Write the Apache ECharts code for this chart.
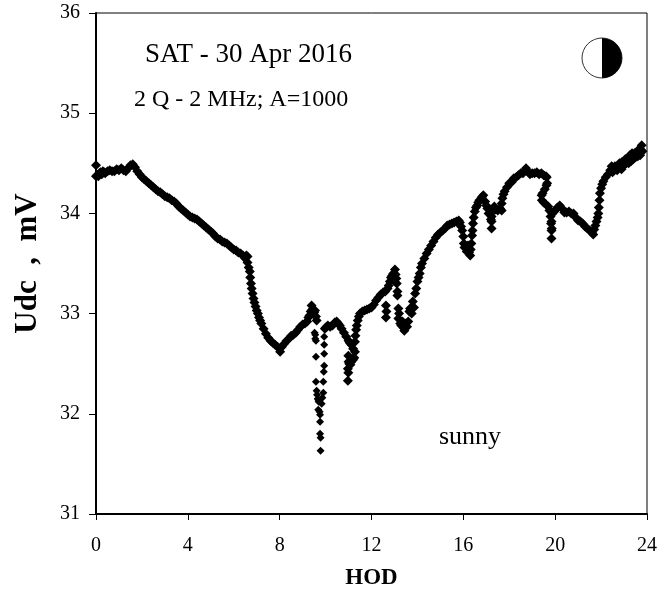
<!DOCTYPE html>
<html><head><meta charset="utf-8">
<style>html,body{margin:0;padding:0;background:#fff}#c{width:661px;height:595px}</style>
<script src="https://cdn.jsdelivr.net/npm/echarts@6/dist/echarts.min.js"></script></head>
<body><div id="c"></div>
<script>
const xTicks=[0,4,8,12,16,20,24];
const hodNight=[0,0,0.05,0.1,0.15,0.2,0.25,0.3,0.35,0.4,0.5,0.6,0.7,0.8,0.9,1.0,1.1,1.2,1.3,1.4,1.5,1.6,1.7,1.8,1.9,2.0,2.1,2.2,2.3,2.4,2.5,2.6,2.7,2.8,2.9,3.0,3.1,3.2,3.3,3.4,3.5,3.6,3.7,3.8,3.9,4.0,4.1,4.2,4.3,4.4,4.5,4.6,4.7,4.8,4.9,5.0,5.1,5.2,5.3,5.4,5.5,5.6,5.7,5.8,5.9,6.0,6.1,6.2,6.3,6.4,6.5,6.55,6.6,6.6,6.65];
const udcNight=[34.48,34.37,34.38,34.37,34.40,34.41,34.39,34.42,34.41,34.40,34.42,34.43,34.42,34.42,34.44,34.43,34.45,34.43,34.42,34.45,34.48,34.49,34.46,34.42,34.39,34.36,34.34,34.32,34.30,34.28,34.26,34.24,34.22,34.21,34.19,34.17,34.16,34.15,34.13,34.12,34.10,34.07,34.05,34.03,34.01,33.99,33.97,33.96,33.95,33.94,33.92,33.90,33.88,33.86,33.84,33.82,33.80,33.77,33.75,33.74,33.72,33.71,33.70,33.68,33.66,33.64,33.63,33.61,33.60,33.58,33.55,33.58,33.51,33.57,33.46];
const hodMorning=[6.7,6.72,6.75,6.78,6.82,6.86,6.9,6.95,7.0,7.05,7.1,7.15,7.2,7.3,7.4,7.5,7.6,7.7,7.8,7.9,8.0,8.02,8.1,8.2,8.3,8.4,8.5,8.6,8.7,8.8,8.9,9.0,9.1,9.2,9.25,9.3,9.35,9.39,9.42,9.45,9.5,9.54,9.58,9.61];
const udcMorning=[33.42,33.36,33.30,33.25,33.20,33.15,33.11,33.07,33.03,33.00,32.96,32.93,32.90,32.85,32.80,32.76,32.73,32.71,32.69,32.67,32.65,32.62,32.67,32.70,32.73,32.75,32.78,32.79,32.81,32.84,32.87,32.89,32.90,32.92,32.96,32.98,33.02,33.08,33.04,33.00,33.01,33.03,32.97,32.93];
const hodDrop=[9.52,9.55,9.55,9.58,9.58,9.58,9.61,9.63,9.66,9.68,9.7,9.68,9.76,9.74,9.76,9.76,9.78,9.78,9.83,9.86,9.9,9.9,9.94,9.94,9.94,9.92,9.94];
const udcDrop=[32.81,32.79,32.75,32.73,32.32,32.57,32.23,32.19,32.15,32.14,32.12,32.04,31.99,32.02,31.92,31.80,31.76,31.63,32.10,32.16,32.21,32.32,32.69,32.60,32.48,32.42,32.77];
const hodNoon=[9.97,10.0,10.05,10.1,10.2,10.3,10.4,10.48,10.55,10.62,10.7,10.8,10.9,11.0,11.05,11.12,11.2,10.97,10.97,10.99,10.99,11.0,11.03,11.08,11.12,11.16,11.2,11.25,11.28,11.28,11.3,11.33,11.36,11.4,11.45,11.5,11.6,11.7,11.8,11.9,12.0,12.1,12.2,12.3,12.4,12.5,12.6,12.7,12.75,12.8,12.85,12.9,12.95,13.02,13.05,13.08,13.1,12.63,12.65,12.63,13.13,13.13];
const udcNoon=[32.85,32.86,32.87,32.88,32.87,32.88,32.91,32.92,32.90,32.88,32.85,32.81,32.77,32.73,32.71,32.69,32.65,32.45,32.33,32.58,32.41,32.52,32.50,32.49,32.52,32.55,32.54,32.56,32.62,32.72,32.78,32.84,32.88,32.93,32.97,33.00,33.02,33.03,33.04,33.05,33.06,33.09,33.13,33.16,33.19,33.21,33.22,33.25,33.28,33.32,33.36,33.38,33.40,33.44,33.39,33.35,33.30,33.08,33.02,32.96,33.22,33.18];
const hodAfter=[13.17,13.17,13.2,13.25,13.3,13.35,13.4,13.43,13.5,13.55,13.6,13.65,13.68,13.72,13.75,13.8,13.85,13.9,13.95,14.0,14.05,14.1,14.15,14.2,14.3,14.4,14.5,14.6,14.7,14.8,14.9,15.0,15.1,15.2,15.3,15.4,15.5,15.6,15.7,15.8,15.85,15.9,15.95,16.0,16.02,16.05,16.1,16.15,16.2,16.25,16.3,16.32,16.35,16.38,16.4,16.42,16.45,16.5,16.55,16.6,16.65,16.7,16.8,16.87,16.95,17.0,17.05,17.1,17.2,17.23,17.23,17.23,17.28,17.35,17.4,17.5,17.6,17.67,17.67,17.7,17.75,17.8,17.9,18.0,18.1,18.2,18.3,18.4,18.5,18.6,18.73,18.8,18.9,19.0,19.1,19.2,19.3,19.4,19.5,19.6,19.63,19.65];
const udcAfter=[33.05,32.95,33.00,32.90,32.88,32.92,32.86,32.83,32.90,32.87,32.92,33.02,33.05,33.05,33.00,33.12,33.06,33.20,33.25,33.32,33.36,33.40,33.46,33.50,33.55,33.60,33.64,33.68,33.72,33.76,33.79,33.81,33.83,33.85,33.88,33.89,33.90,33.91,33.92,33.93,33.91,33.87,33.83,33.77,33.70,33.66,33.68,33.62,33.68,33.61,33.58,33.64,33.70,33.78,33.83,33.90,33.96,34.02,34.06,34.08,34.11,34.13,34.16,34.18,34.12,34.08,34.05,34.00,33.94,33.85,33.92,33.97,34.02,34.07,34.04,34.03,34.05,34.03,34.10,34.15,34.19,34.22,34.26,34.30,34.31,34.35,34.36,34.38,34.40,34.40,34.45,34.42,34.39,34.40,34.40,34.41,34.39,34.40,34.38,34.37,34.36,34.30];
const hodEve=[19.62,19.55,19.45,19.41,19.42,19.5,19.6,19.7,19.75,19.8,19.82,19.84,19.84,19.84,19.85,19.88,19.95,20.0,20.1,20.2,20.3,20.4,20.5,20.6,20.7,20.8,20.9,21.0,21.1,21.2,21.3,21.4,21.5,21.6,21.66,21.7,21.75,21.8,21.85,21.88,21.9,21.93,21.95,22.0,22.05,22.1,22.2,22.3,22.4,22.46,22.5,22.6,22.7,22.8,22.89,22.9,23.0,23.05,23.1,23.15,23.2,23.25,23.3,23.35,23.4,23.45,23.5,23.55,23.6,23.65,23.7,23.75,23.77,23.8];
const udcEve=[34.28,34.24,34.20,34.18,34.13,34.11,34.09,34.07,34.03,33.97,33.90,33.83,33.75,33.92,33.85,34.00,34.02,34.03,34.06,34.08,34.05,34.01,34.01,34.02,34.00,34.00,33.96,33.93,33.92,33.90,33.87,33.85,33.83,33.81,33.79,33.84,33.88,33.92,33.96,34.00,34.06,34.13,34.20,34.25,34.29,34.32,34.36,34.39,34.43,34.47,34.41,34.47,34.43,34.50,34.44,34.51,34.48,34.54,34.50,34.55,34.50,34.58,34.52,34.60,34.54,34.60,34.56,34.61,34.57,34.64,34.58,34.63,34.68,34.62];
const pts=(h,u)=>h.map((x,i)=>[x,u[i]]);
const segments=[[hodNight,udcNight,10],[hodMorning,udcMorning,10],[hodDrop,udcDrop,8],[hodNoon,udcNoon,10],[hodAfter,udcAfter,10],[hodEve,udcEve,10]];
const font='"Liberation Serif","Times New Roman",serif';
const text=(x,y,t,size,extra)=>({type:'text',x,y,silent:true,style:Object.assign({text:t,fill:'#000',font:size+'px '+font,textVerticalAlign:'middle'},extra||{})});
const chart=echarts.init(document.getElementById('c'),null,{renderer:'canvas'});
chart.setOption({
 animation:false,backgroundColor:'#fff',
 grid:{left:96,top:13,width:551,height:501,show:true,borderColor:'#000',borderWidth:1,backgroundColor:'transparent',outerBoundsMode:'none'},
 xAxis:{type:'value',min:0,max:24,interval:4,
  name:'HOD',nameLocation:'middle',nameGap:53,nameTextStyle:{fontFamily:font,fontWeight:'bold',fontSize:23,color:'#000'},
  axisLine:{onZero:false,lineStyle:{color:'#000',width:2}},axisTick:{length:6,lineStyle:{color:'#000',width:1}},
  axisLabel:{fontFamily:font,fontSize:20,color:'#000',margin:22,showMaxLabel:true,showMinLabel:true},splitLine:{show:false}},
 yAxis:{type:'value',min:31,max:36,interval:1,
  name:'Udc  ,  mV',nameLocation:'middle',nameGap:53,nameTextStyle:{fontFamily:font,fontWeight:'bold',fontSize:31,color:'#000'},
  axisLine:{onZero:false,lineStyle:{color:'#000',width:2}},axisTick:{length:7,lineStyle:{color:'#000',width:1}},
  axisLabel:{fontFamily:font,fontSize:20,color:'#000',margin:16,showMaxLabel:true,showMinLabel:true},splitLine:{show:false}},
 graphic:[
  text(145,55,'SAT - 30 Apr 2016',27),
  text(134,100,'2 Q - 2 MHz; A=1000',24),
  text(439,437,'sunny',26),
  {type:'circle',shape:{cx:602,cy:58,r:20},style:{fill:'#fff',stroke:'#333',lineWidth:1},silent:true},
  {type:'sector',shape:{cx:602,cy:58,r:20,r0:0,startAngle:-Math.PI/2,endAngle:Math.PI/2},style:{fill:'#000'},silent:true}
 ],
 series:segments.map(([h,u,s])=>({type:'scatter',symbol:'diamond',symbolSize:s,clip:false,
  itemStyle:{color:'#000',opacity:1},data:pts(h,u)}))
});
</script></body></html>
